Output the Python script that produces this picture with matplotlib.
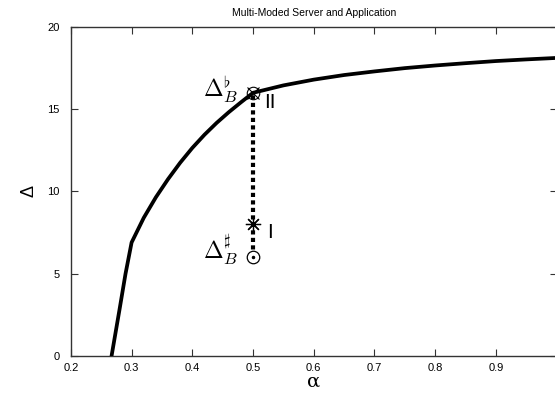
import matplotlib
matplotlib.use("Agg")
import matplotlib.pyplot as plt

plt.rcParams['font.family'] = ['Liberation Sans', 'DejaVu Sans']
plt.rcParams['mathtext.fontset'] = 'cm'

# curve data
alpha = [0.267, 0.28, 0.29, 0.30, 0.32, 0.34, 0.36, 0.38, 0.40, 0.42, 0.44, 0.46, 0.48,
         0.50, 0.55, 0.60, 0.65, 0.70, 0.75, 0.80, 0.85, 0.90, 0.95, 1.00]
delta = [0.0, 2.8, 5.0, 6.9, 8.4, 9.65, 10.75, 11.75, 12.65, 13.45, 14.17, 14.82, 15.42,
         16.0, 16.45, 16.8, 17.08, 17.3, 17.5, 17.66, 17.8, 17.93, 18.03, 18.12]

# special points
pt_alpha = 0.5
delta_flat = 16.0
delta_I = 8.0
delta_sharp = 6.0

xticks = [0.2, 0.3, 0.4, 0.5, 0.6, 0.7, 0.8, 0.9]
yticks = [0, 5, 10, 15, 20]

fig = plt.figure(figsize=(5.55, 3.97), dpi=100)
ax = fig.add_axes([0.1277, 0.1033, 0.8753, 0.8287])

ax.plot(alpha, delta, color='black', lw=2.7, solid_joinstyle='round', zorder=3)
ax.plot([pt_alpha, pt_alpha], [delta_sharp, delta_flat], color='black', lw=3,
        linestyle=(0, (1, 0.8)), zorder=2)

# markers
ax.plot([pt_alpha], [delta_flat], marker='o', ms=9, mfc='none', mec='black', mew=0.8, zorder=4)
ax.plot([pt_alpha], [delta_flat], marker='x', ms=8, mec='black', mew=0.8, zorder=4)
ax.plot([pt_alpha], [delta_I], marker=(8, 2, 0), ms=11, mec='black', mew=0.9, zorder=4)
ax.plot([pt_alpha], [delta_sharp], marker='o', ms=9, mfc='white', mec='black', mew=0.9, zorder=4)
ax.plot([pt_alpha], [delta_sharp], marker='o', ms=1.5, color='black', zorder=5)

ax.text(0.475, 16.3, r'$\Delta_B^\flat$', fontsize=17, ha='right', va='center')
ax.text(0.475, 6.5, r'$\Delta_B^\sharp$', fontsize=17, ha='right', va='center')
ax.text(0.518, 15.4, 'II', fontsize=15, ha='left', va='center')
ax.text(0.524, 7.5, 'I', fontsize=15, ha='left', va='center')

ax.set_xlim(0.2, 1.0)
ax.set_ylim(0, 20)
ax.set_xticks(xticks)
ax.set_xticklabels([f'{t:g}' for t in xticks])
ax.set_yticks(yticks)
ax.tick_params(direction='in', length=5, width=0.8, top=True, right=True,
               labelsize=8, colors='#333333', labelcolor='black')
ax.tick_params(axis='y', pad=8)
ax.tick_params(axis='x', pad=5)
for s in ax.spines.values():
    s.set_color('#333333')
    s.set_linewidth(1.0)

ax.set_xlabel('α', fontsize=14, family='DejaVu Serif', labelpad=0)
ax.set_ylabel('Δ', fontsize=13, labelpad=7)
ax.set_title('Multi-Moded Server and Application', fontsize=7.5, pad=8)

fig.savefig('out.png', dpi=100)
